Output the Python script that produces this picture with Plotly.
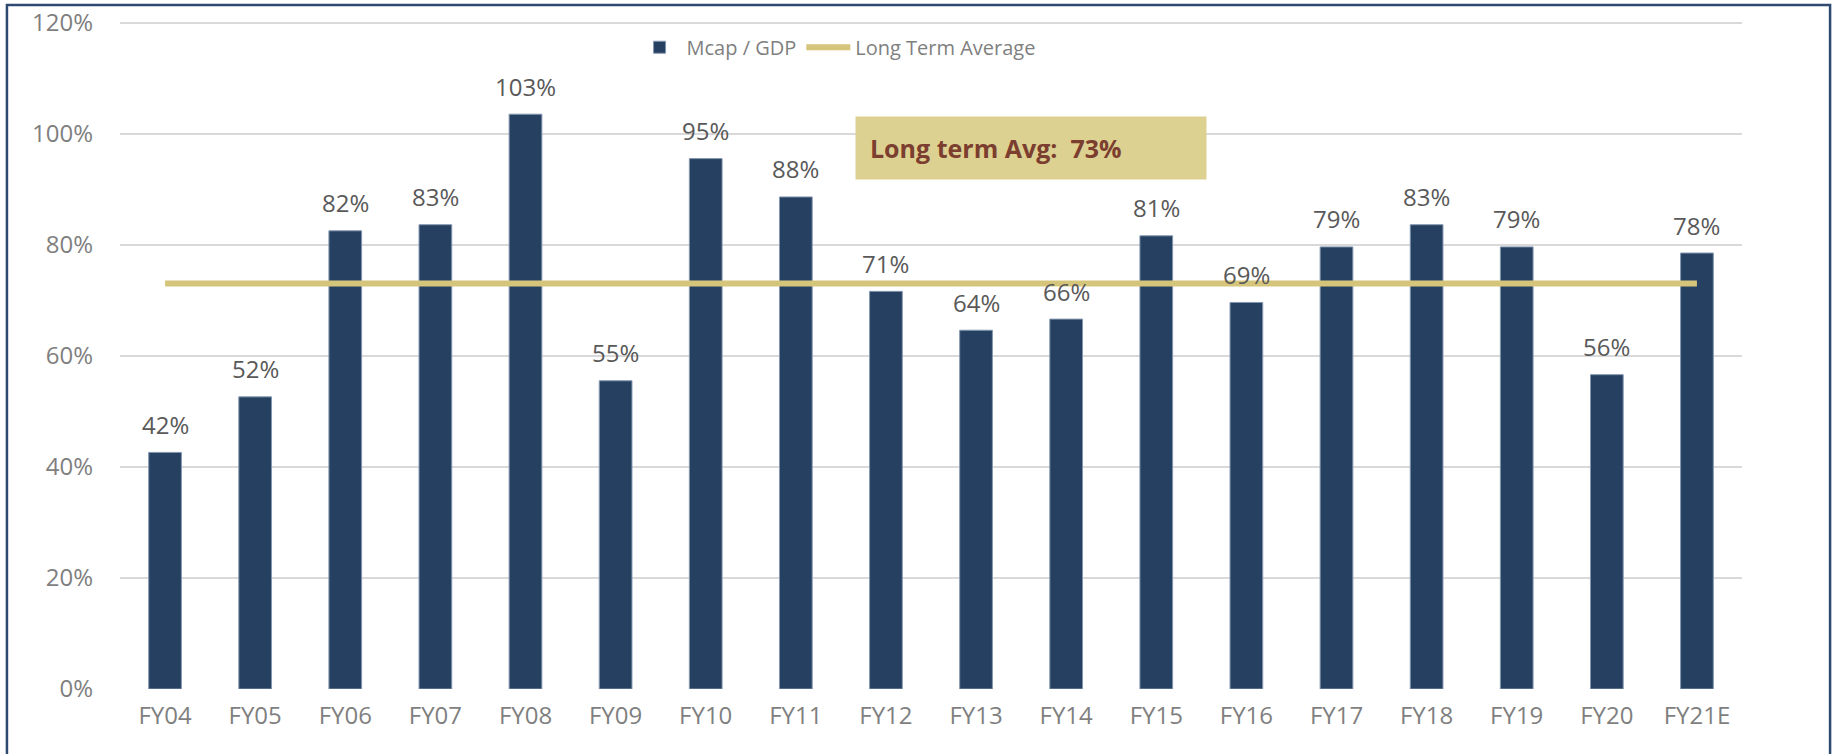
import plotly.graph_objects as go

# Mcap / GDP by fiscal year (bar heights, in %)
years = ["FY04", "FY05", "FY06", "FY07", "FY08", "FY09", "FY10", "FY11", "FY12",
         "FY13", "FY14", "FY15", "FY16", "FY17", "FY18", "FY19", "FY20", "FY21E"]
mcap_gdp = [42.6, 52.6, 82.5, 83.6, 103.5, 55.5, 95.5, 88.6, 71.6,
            64.6, 66.6, 81.6, 69.6, 79.6, 83.6, 79.6, 56.6, 78.5]
long_term_avg = 73

NAVY = "#264061"
GOLD = "#D5C57A"
FONT = "Open Sans, Noto Sans, sans-serif"

fig = go.Figure()
fig.add_trace(go.Bar(
    x=years, y=mcap_gdp, name="Mcap / GDP",
    marker=dict(color=NAVY, line=dict(color="#8497B0", width=1))))
fig.add_trace(go.Scatter(
    x=years, y=[long_term_avg] * len(years), mode="lines", name="Long Term Average",
    line=dict(color=GOLD, width=6)))

# data labels above bars (truncated like the source)
for yr, v in zip(years, mcap_gdp):
    fig.add_annotation(x=yr, y=v, text=f"{int(v)}%", showarrow=False,
                       yanchor="middle", yshift=28,
                       font=dict(family=FONT, size=24, color="#595959"))

fig.add_annotation(
    xref="paper", yref="paper", x=0.5617, y=0.8045, xanchor="center", yanchor="middle",
    text=f"<b>Long term Avg:  {long_term_avg}%</b>", showarrow=False,
    align="left", width=322, height=34, borderpad=14, bgcolor="#DDD192",
    font=dict(family=FONT, size=25, color="#7B3E2F"))

# outer frame
fig.add_shape(type="rect", xref="paper", yref="paper",
              x0=-0.0697, x1=1.0543, y0=-0.11, y1=1.018,
              line=dict(color="#2F4A70", width=2.5), fillcolor="rgba(0,0,0,0)", layer="below")

fig.update_xaxes(showgrid=False, showline=False, ticks="", automargin=False,
                 tickfont=dict(family=FONT, size=24, color="#7F7F7F"),
                 ticklabelstandoff=10)
fig.update_yaxes(range=[0, 121], dtick=20, tick0=0, ticksuffix="%",
                 showline=False, zeroline=False,
                 gridcolor="#D9D9D9", gridwidth=2, ticks="", automargin=False,
                 tickfont=dict(family=FONT, size=24, color="#7F7F7F"),
                 ticklabelstandoff=26)
fig.update_layout(
    width=1835, height=754, bargap=0.637,
    margin=dict(l=120, r=93, t=17, b=65),
    plot_bgcolor="white", paper_bgcolor="white",
    legend=dict(orientation="h", x=0.316, y=0.955, xanchor="left", yanchor="middle",
                font=dict(family=FONT, size=20, color="#7F7F7F"),
                itemwidth=44, bgcolor="rgba(0,0,0,0)"),
)
fig.write_html("out.html", config={"displayModeBar": False},
               post_script="document.documentElement.style.overflow='hidden';"
                           "document.body.style.margin='0';document.body.style.overflow='hidden';")
